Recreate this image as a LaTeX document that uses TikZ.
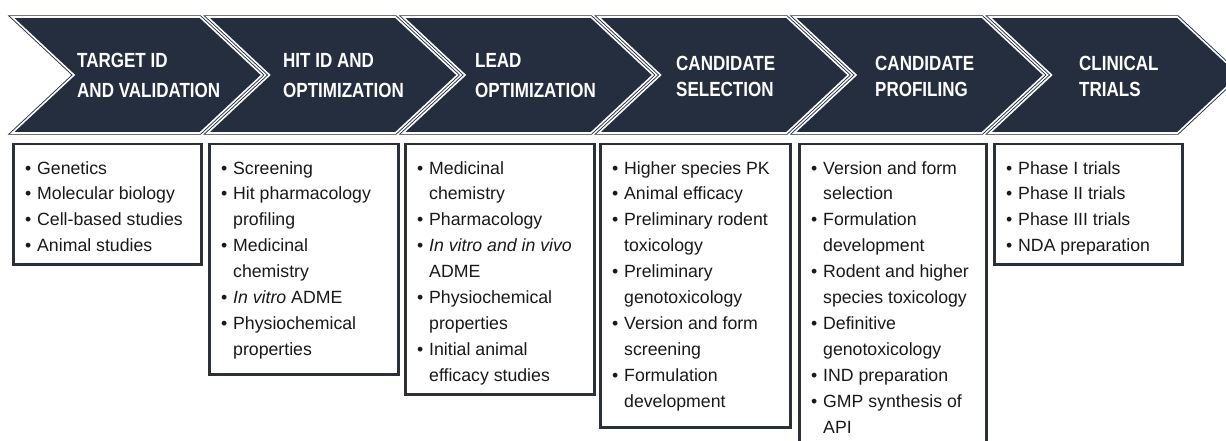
\documentclass[tikz,border=0pt]{standalone}
\usepackage{fontspec}
\setmainfont{Liberation Sans}
\newfontfamily\headfont[FakeStretch=0.83]{Liberation Sans}
\definecolor{navy}{RGB}{36,46,62}
\definecolor{boxc}{RGB}{43,47,54}
\definecolor{txt}{RGB}{25,25,25}
\newcommand\bul{\makebox[12pt][l]{•}}
\newcommand\cnt{\hspace*{12pt}}
\tikzset{
  chev/.style={fill=navy, draw=navy, line width=0.9pt, double=white, double distance=1.6pt, line join=miter},
  head/.style={anchor=north west, inner sep=0pt, text=white, align=left, font=\headfont\bfseries\fontsize{20.5}{30}\selectfont},
  headb/.style={head, font=\headfont\bfseries\fontsize{20.5}{26}\selectfont},
  box/.style={draw=boxc, line width=2.5pt, fill=white, inner sep=0pt, anchor=north west},
  list/.style={anchor=north west, inner sep=0pt, text=txt, align=left, font=\fontsize{17.7}{25.9}\selectfont}
}
\begin{document}
\begin{tikzpicture}[x=1pt,y=-1pt]
\useasboundingbox (0,0) rectangle (1226,441);
\clip (0,0) rectangle (1226,441);
\foreach \i in {0,...,5} {
  \pgfmathsetmacro\L{12+195.5*\i}
  \pgfmathsetmacro\R{200+195.5*\i}
  \draw[chev] (\L,17) -- (\R,17) -- (\R+62,75) -- (\R,133) -- (\L,133) -- (\L+62,75) -- cycle;
}
\node[head] (h1) at (77,53.3) {TARGET ID\\AND VALIDATION};
\node[head] (h2) at (283,53.3) {HIT ID AND\\OPTIMIZATION};
\node[head] (h3) at (475,53.3) {LEAD\\OPTIMIZATION};
\node[headb] (h4) at (676,56.3) {CANDIDATE\\SELECTION};
\node[headb] (h5) at (875,56.3) {CANDIDATE\\PROFILING};
\node[headb] (h6) at (1079,56.3) {CLINICAL\\TRIALS};

\node[box, minimum width=188pt, minimum height=120pt] (b1) at (12,143) {};
\node[box, minimum width=189pt, minimum height=230pt] (b2) at (208,143) {};
\node[box, minimum width=189pt, minimum height=250pt] (b3) at (404,143) {};
\node[box, minimum width=190pt, minimum height=283pt] (b4) at (599,143) {};
\node[box, minimum width=187pt, minimum height=330pt] (b5) at (798,143) {};
\node[box, minimum width=188pt, minimum height=120pt] (b6) at (993,143) {};

\node[list] (l1) at ([shift={(13,18)}]b1.north west) {\bul Genetics\\\bul Molecular biology\\\bul Cell-based studies\\\bul Animal studies};
\node[list] (l2) at ([shift={(13,18)}]b2.north west) {\bul Screening\\\bul Hit pharmacology\\\cnt profiling\\\bul Medicinal\\\cnt chemistry\\\bul \textit{In vitro} ADME\\\bul Physiochemical\\\cnt properties};
\node[list] (l3) at ([shift={(13,18)}]b3.north west) {\bul Medicinal\\\cnt chemistry\\\bul Pharmacology\\\bul \textit{In vitro and in vivo}\\\cnt ADME\\\bul Physiochemical\\\cnt properties\\\bul Initial animal\\\cnt efficacy studies};
\node[list] (l4) at ([shift={(13,18)}]b4.north west) {\bul Higher species PK\\\bul Animal efficacy\\\bul Preliminary rodent\\\cnt toxicology\\\bul Preliminary\\\cnt genotoxicology\\\bul Version and form\\\cnt screening\\\bul Formulation\\\cnt development};
\node[list] (l5) at ([shift={(13,18)}]b5.north west) {\bul Version and form\\\cnt selection\\\bul Formulation\\\cnt development\\\bul Rodent and higher\\\cnt species toxicology\\\bul Definitive\\\cnt genotoxicology\\\bul IND preparation\\\bul GMP synthesis of\\\cnt API};
\node[list] (l6) at ([shift={(13,18)}]b6.north west) {\bul Phase I trials\\\bul Phase II trials\\\bul Phase III trials\\\bul NDA preparation};
\end{tikzpicture}
\end{document}
